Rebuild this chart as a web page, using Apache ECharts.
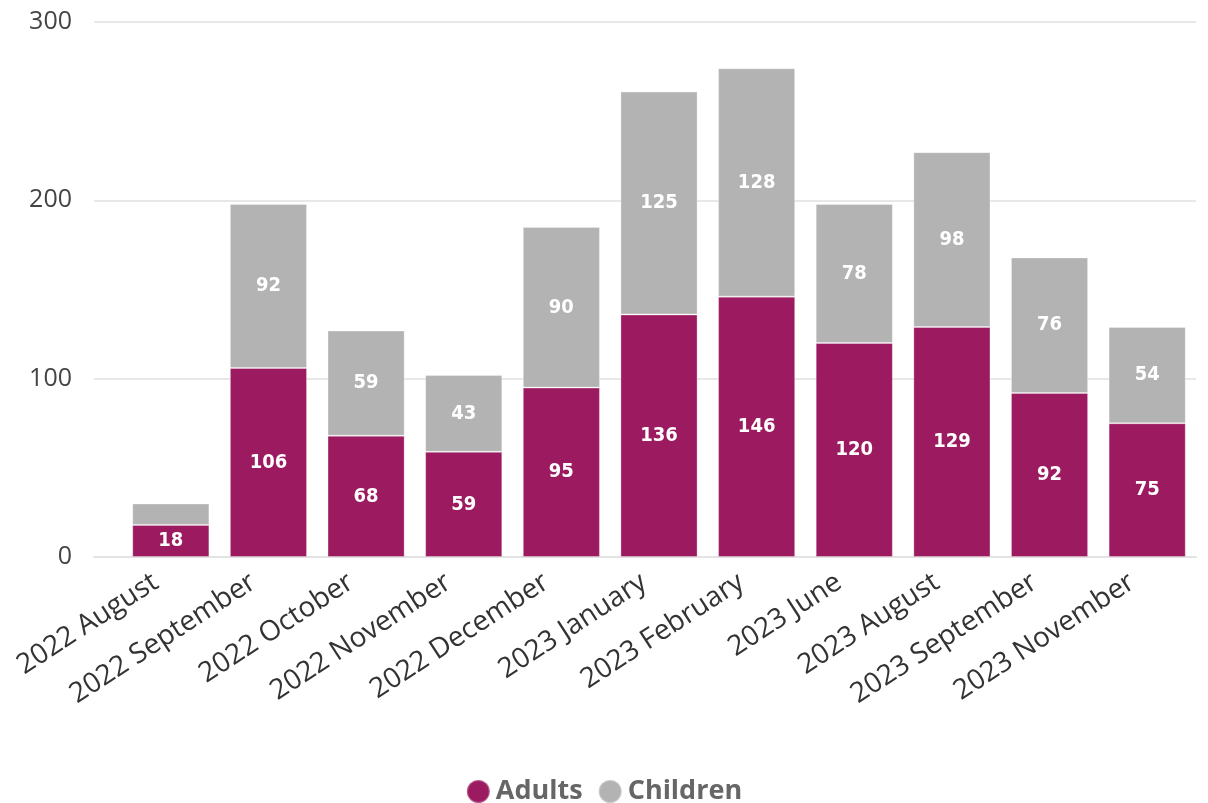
<!DOCTYPE html>
<html>
<head>
<meta charset="utf-8">
<script src="https://cdn.jsdelivr.net/npm/echarts@6/dist/echarts.min.js"></script>
<style>
  html, body { margin: 0; padding: 0; background: #fff; }
  #chart { width: 1208px; height: 803px; }
</style>
</head>
<body>
<div id="chart"></div>
<script>
// Monthly counts split into adults and children
const months = [
  '2022 August', '2022 September', '2022 October', '2022 November', '2022 December',
  '2023 January', '2023 February', '2023 June', '2023 August', '2023 September', '2023 November'
];
const adults   = [18, 106, 68, 59, 95, 136, 146, 120, 129, 92, 75];
const children = [12, 92, 59, 43, 90, 125, 128, 78, 98, 76, 54];
const yTicks = [0, 100, 200, 300];

const PURPLE = '#9C1B60';
const GREY = '#B3B3B3';
const axisFont = 'Open Sans, Noto Sans, sans-serif';
const labelFont = 'DejaVu Sans Condensed, DejaVu Sans, sans-serif';

// Segments too short to hold a label stay unlabelled
function withLabels(values) {
  return values.map(v => ({ value: v, label: { show: v >= 15 } }));
}

const chart = echarts.init(document.getElementById('chart'), null, { renderer: 'canvas' });

const barLabel = {
  show: true,
  position: 'inside',
  color: '#ffffff',
  fontFamily: labelFont,
  fontWeight: 'bold',
  fontSize: 20
};

chart.setOption({
  animation: false,
  backgroundColor: '#ffffff',
  legend: {
    top: 773,
    left: 'center',
    icon: 'circle',
    itemWidth: 23,
    itemHeight: 23,
    itemGap: 15,
    textStyle: { fontFamily: axisFont, fontWeight: 'bold', fontSize: 27, color: '#666666', padding: [0, 0, 0, 1] },
    data: ['Adults', 'Children']
  },
  grid: [
    // frame for the value scale: gridlines and tick labels
    { left: 94, right: 12, top: 22, bottom: 246, containLabel: false },
    // plotting area for the bars
    { left: 122, right: 12, top: 22, bottom: 246, containLabel: false }
  ],
  xAxis: [
    {
      gridIndex: 0, type: 'category', data: [''],
      axisLine: { show: true, lineStyle: { color: '#E3E3E3', width: 2 } },
      axisTick: { show: false }, axisLabel: { show: false }
    },
    {
      gridIndex: 1, type: 'category', data: months,
      boundaryGap: true,
      axisLine: { show: false }, axisTick: { show: false },
      axisLabel: {
        interval: 0, rotate: 33, margin: 13,
        padding: [0, 18, 0, 0],
        fontFamily: axisFont, fontSize: 28, color: '#333333'
      }
    }
  ],
  yAxis: [
    {
      gridIndex: 0, type: 'value', min: yTicks[0], max: yTicks[yTicks.length - 1], interval: 100,
      axisLine: { show: false }, axisTick: { show: false },
      splitLine: { lineStyle: { color: '#E8E8E8', width: 2 } },
      axisLabel: { fontFamily: axisFont, fontSize: 25, color: '#444444', margin: 22 }
    },
    {
      gridIndex: 1, type: 'value', min: yTicks[0], max: yTicks[yTicks.length - 1], interval: 100,
      show: false, splitLine: { show: false }
    }
  ],
  series: [
    {
      name: 'Adults', type: 'bar', stack: 'total',
      xAxisIndex: 1, yAxisIndex: 1,
      barCategoryGap: '21%',
      itemStyle: { color: PURPLE, borderColor: 'rgba(255,255,255,0.3)', borderWidth: 1 },
      label: barLabel,
      data: withLabels(adults)
    },
    {
      name: 'Children', type: 'bar', stack: 'total',
      xAxisIndex: 1, yAxisIndex: 1,
      barCategoryGap: '21%',
      itemStyle: { color: GREY, borderColor: 'rgba(255,255,255,0.3)', borderWidth: 1 },
      label: barLabel,
      data: withLabels(children)
    }
  ]
});
</script>
</body>
</html>
